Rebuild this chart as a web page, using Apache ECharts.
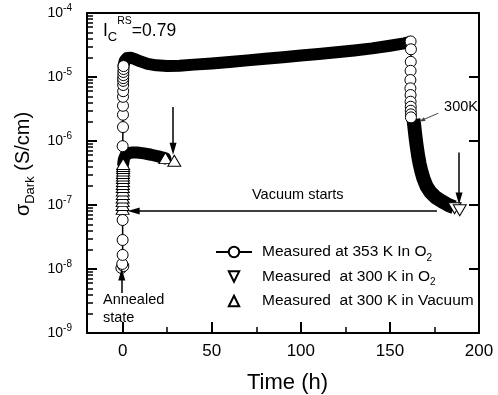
<!DOCTYPE html>
<html>
<head>
<meta charset="utf-8">
<script src="https://cdn.jsdelivr.net/npm/echarts@6/dist/echarts.min.js"></script>
<style>
  html, body { margin: 0; padding: 0; background: #fff; }
  #chart { width: 498px; height: 395px; }
</style>
</head>
<body>
<div id="chart"></div>
<script>
// time (h) and dark conductivity (S/cm)

// 353 K in O2: fast rise after annealing, long plateau, fall on cooling
const hotRiseT = [-0.7, 0.4, -0.2, 0, 0, 0, 0, 0.2, 0.2, 0.2, 0.2, 0.3, 0.3, 0.3, 0.3, 0.4, 0.4, 0.5, 0.5];
const hotRiseS = [1.04e-8, 1.11e-8, 1.2e-8, 1.66e-8, 2.84e-8, 5.83e-8, 8.3e-7, 1.65e-6, 2.57e-6, 3.55e-6, 4.9e-6,
  6.0e-6, 7.5e-6, 8.7e-6, 9.6e-6, 1.07e-5, 1.2e-5, 1.33e-5, 1.48e-5];
const hotBandT = [0.5, 1.2, 2.5, 4.5, 7, 10, 14, 19, 25, 32, 40, 50, 60, 70, 80, 90, 100, 110, 120, 130, 140, 150, 158, 161];
const hotBandS = [1.5e-5, 1.8e-5, 1.98e-5, 2.0e-5, 1.9e-5, 1.75e-5, 1.6e-5, 1.52e-5, 1.49e-5, 1.5e-5, 1.56e-5, 1.63e-5,
  1.72e-5, 1.82e-5, 1.93e-5, 2.04e-5, 2.16e-5, 2.29e-5, 2.43e-5, 2.6e-5, 2.8e-5, 3.08e-5, 3.35e-5, 3.5e-5];
const hotDropT = [161.6, 161.8, 161.7, 161.6, 161.5, 161.5, 161.6, 161.6, 161.7, 161.7, 161.8, 161.8];
const hotDropS = [3.6e-5, 2.71e-5, 1.73e-5, 1.25e-5, 8.98e-6, 6.65e-6, 5.23e-6, 4.11e-6, 3.43e-6, 2.97e-6, 2.61e-6, 2.34e-6];

// 300 K in O2
const o2BandT = [163.2, 163.6, 164.0, 164.5, 165.1, 165.8, 166.6, 167.6, 168.9, 170.6, 172.8, 175.6, 179.0, 182.8, 186.0];
const o2BandS = [2.2e-6, 1.8e-6, 1.42e-6, 1.08e-6, 8.1e-7, 6.0e-7, 4.5e-7, 3.4e-7, 2.55e-7, 1.95e-7, 1.58e-7, 1.32e-7,
  1.15e-7, 1.0e-7, 9.2e-8];
const o2EndT = [186.3, 189.2];
const o2EndS = [8.9e-8, 8.3e-8];

// 300 K in vacuum
const vacStackT = [0, 0, 0, 0, 0.1, 0.1, 0.1, 0.1, 0.2, 0.2, 0.2, 0.2, 0.3, 0.3, 0.3, 0.3];
const vacStackS = [8.7e-8, 1.0e-7, 1.15e-7, 1.31e-7, 1.49e-7, 1.69e-7, 1.91e-7, 2.13e-7, 2.37e-7, 2.64e-7, 2.89e-7,
  3.16e-7, 3.46e-7, 3.79e-7, 4.07e-7, 4.37e-7];
const vacBandT = [0.3, 0.7, 1.5, 3, 5, 8, 12, 16, 20, 24];
const vacBandS = [4.4e-7, 5.2e-7, 5.9e-7, 6.4e-7, 6.6e-7, 6.6e-7, 6.4e-7, 6.1e-7, 5.75e-7, 5.35e-7];
const vacEndT = [24, 29];
const vacEndS = [5.4e-7, 4.9e-7];

// annotation arrows: [t0, s0, t1, s1] (head at the second point)
const arrows = [
  [28.3, 3.4e-6, 28.3, 7.6e-7],
  [188.8, 6.6e-7, 188.8, 1.26e-7],
  [176.4, 8.05e-8, 6.2, 8.05e-8],
  [-0.5, 4.2e-9, -0.5, 8.2e-9]
];
const pointer300K = [177.1, 2.71e-6, 168.0, 2.11e-6];

const xTicks = [0, 50, 100, 150, 200];
const xMinorTicks = [25, 75, 125, 175];
const yDecades = [-9, -8, -7, -6, -5, -4];
// minor ticks at 2..9 x 10^n, placed on a helper axis in log10 units
const yMinorTicks = yDecades.slice(0, -1).flatMap(e => [2, 3, 4, 5, 6, 7, 8, 9].map(k => e + Math.log10(k)));

const hotName = 'Measured at 353 K In O2';
const o2Name = 'Measured  at 300 K in O2';
const vacName = 'Measured  at 300 K in Vacuum';

const font = 'Liberation Sans';
const pairs = (ts, vs) => ts.map((t, i) => [t, vs[i]]);
const hollow = { color: '#fff', borderColor: '#000', borderWidth: 1 };
const frameLine = { show: true, onZero: false, lineStyle: { color: '#000', width: 2 } };
const noLine = { show: false, onZero: false };

const bandSeries = (name, ts, vs, width, cap) => ({
  name: name,
  type: 'line',
  data: pairs(ts, vs),
  symbol: 'none',
  showSymbol: false,
  silent: true,
  lineStyle: { color: '#000', width: width, cap: cap, join: 'round' },
});

// marker-only line series, so the legend icon keeps a square symbol
const markerSeries = (name, ts, vs, rotate) => ({
  name: name,
  type: 'line',
  data: pairs(ts, vs),
  symbol: 'triangle',
  symbolSize: [13, 11],
  symbolRotate: rotate,
  showAllSymbol: true,
  itemStyle: hollow,
  lineStyle: { opacity: 0, width: 0 },
  silent: true,
});

const chart = echarts.init(document.getElementById('chart'));

const option = {
  animation: false,
  grid: { left: 87, right: 19, top: 13, bottom: 62, outerBoundsMode: 'none' },
  legend: {
    data: [hotName, o2Name, vacName],
    orient: 'vertical',
    left: 210,
    top: 236,
    itemWidth: 36,
    itemHeight: 13,
    itemGap: 2.5,
    selectedMode: false,
    formatter: name => (name.endsWith('O2') ? name.slice(0, -1) + '{sub|2}' : name),
    textStyle: {
      fontFamily: font,
      fontSize: 15.5,
      color: '#000',
      lineHeight: 22,
      padding: [0, 0, 0, 5],
      rich: {
        sub: { fontFamily: font, fontSize: 10, lineHeight: 10, padding: [12, 0, 0, 0], color: '#000' },
      },
    },
  },
  xAxis: [
    {
      type: 'value',
      min: -20,
      max: 200,
      position: 'bottom',
      name: 'Time (h)',
      nameLocation: 'middle',
      nameGap: 39,
      nameTextStyle: { fontFamily: font, fontSize: 22, color: '#000', padding: [0, 0, 0, 9] },
      axisLine: frameLine,
      axisTick: { show: true, inside: true, length: 11, customValues: xTicks, lineStyle: { color: '#000', width: 2 } },
      axisLabel: { customValues: xTicks, fontFamily: font, fontSize: 17, color: '#000', margin: 10 },
      splitLine: { show: false },
    },
    {
      type: 'value',
      min: -20,
      max: 200,
      position: 'bottom',
      axisLine: noLine,
      axisTick: { show: true, inside: true, length: 6, customValues: xMinorTicks, lineStyle: { color: '#000', width: 1.5 } },
      axisLabel: { show: false },
      splitLine: { show: false },
    },
    {
      type: 'value',
      min: -20,
      max: 200,
      position: 'top',
      axisLine: frameLine,
      axisTick: { show: false },
      axisLabel: { show: false },
      splitLine: { show: false },
    },
  ],
  yAxis: [
    {
      type: 'log',
      logBase: 10,
      min: 1e-9,
      max: 1e-4,
      position: 'left',
      name: '{s|σ}{d|Dark}{s| (S/cm)}',
      nameLocation: 'middle',
      nameGap: 47,
      nameTextStyle: {
        fontFamily: font,
        fontSize: 19,
        color: '#000',
        padding: [0, 0, 0, 18],
        rich: {
          s: { fontFamily: font, fontSize: 20, lineHeight: 22, color: '#000' },
          d: { fontFamily: font, fontSize: 13, lineHeight: 13, padding: [14, 0, 0, 0], color: '#000' },
        },
      },
      axisLine: frameLine,
      axisTick: { show: true, inside: true, length: 10, lineStyle: { color: '#000', width: 2 } },
      axisLabel: {
        fontFamily: font,
        fontSize: 14,
        color: '#000',
        margin: 15,
        formatter: v => '10{sup|' + Math.round(Math.log10(v)) + '}',
        rich: {
          sup: { fontFamily: font, fontSize: 10, lineHeight: 10, padding: [0, 0, 10, 0], color: '#000' },
        },
      },
      splitLine: { show: false },
    },
    {
      type: 'value',
      min: -9,
      max: -4,
      position: 'left',
      axisLine: noLine,
      axisTick: { show: true, inside: true, length: 6, customValues: yMinorTicks, lineStyle: { color: '#000', width: 1.5 } },
      axisLabel: { show: false },
      splitLine: { show: false },
    },
    {
      type: 'log',
      logBase: 10,
      min: 1e-9,
      max: 1e-4,
      position: 'right',
      axisLine: frameLine,
      axisTick: { show: true, inside: true, length: 10, lineStyle: { color: '#000', width: 2 } },
      axisLabel: { show: false },
      splitLine: { show: false },
    },
  ],
  series: [
    {
      name: hotName,
      type: 'line',
      data: pairs(hotRiseT, hotRiseS),
      symbol: 'circle',
      symbolSize: 11,
      showAllSymbol: true,
      itemStyle: hollow,
      lineStyle: { color: '#000', width: 1.5 },
      silent: true,
    },
    bandSeries('hot plateau', hotBandT, hotBandS, 12, 'round'),
    {
      name: 'hot cooling',
      type: 'line',
      data: pairs(hotDropT, hotDropS),
      symbol: 'circle',
      symbolSize: 11,
      showAllSymbol: true,
      itemStyle: hollow,
      lineStyle: { color: '#000', width: 1.5 },
      silent: true,
    },
    bandSeries('o2 band', o2BandT, o2BandS, 14, 'butt'),
    markerSeries(o2Name, o2EndT, o2EndS, 180),
    markerSeries(vacName, vacStackT, vacStackS, 0),
    bandSeries('vac band', vacBandT, vacBandS, 12, 'round'),
    Object.assign(markerSeries('vac end', vacEndT, vacEndS, 0), {
      markLine: {
        silent: true,
        animation: false,
        symbol: ['none', 'triangle'],
        label: { show: false },
        emphasis: { disabled: true },
        lineStyle: { color: '#000', width: 1.5, type: 'solid', opacity: 1 },
        itemStyle: { color: '#000' },
        data: arrows.map(a => [
          { coord: [a[0], a[1]] },
          { coord: [a[2], a[3]], symbolSize: [7, 12] },
        ]).concat([[
          { coord: [pointer300K[0], pointer300K[1]], lineStyle: { color: '#444', width: 1 } },
          { coord: [pointer300K[2], pointer300K[3]], symbolSize: [4, 6], lineStyle: { color: '#444', width: 1 } },
        ]]),
      },
    }),
  ],
  graphic: [
    {
      type: 'text',
      x: 103,
      y: 31,
      silent: true,
      style: {
        text: '{i|I}{c|C}{r|RS}{i|=0.79}',
        verticalAlign: 'middle',
        rich: {
          i: { fontFamily: font, fontSize: 17.5, lineHeight: 20, fill: '#000' },
          c: { fontFamily: font, fontSize: 13, lineHeight: 13, padding: [12, 0, 0, 0], fill: '#000' },
          r: { fontFamily: font, fontSize: 10.5, lineHeight: 10, padding: [0, 0, 20, 0], fill: '#000' },
        },
      },
    },
    {
      type: 'text',
      x: 461,
      y: 107,
      silent: true,
      style: { text: '300K', fontFamily: font, fontSize: 14.5, fill: '#000', align: 'center', verticalAlign: 'middle' },
    },
    {
      type: 'text',
      x: 252,
      y: 195,
      silent: true,
      style: { text: 'Vacuum starts', fontFamily: font, fontSize: 14.5, fill: '#000', verticalAlign: 'middle' },
    },
    {
      type: 'text',
      x: 103,
      y: 309,
      silent: true,
      style: {
        text: 'Annealed\nstate',
        fontFamily: font,
        fontSize: 14.5,
        lineHeight: 18,
        fill: '#000',
        verticalAlign: 'middle',
      },
    },
  ],
};

chart.setOption(option);
</script>
</body>
</html>
